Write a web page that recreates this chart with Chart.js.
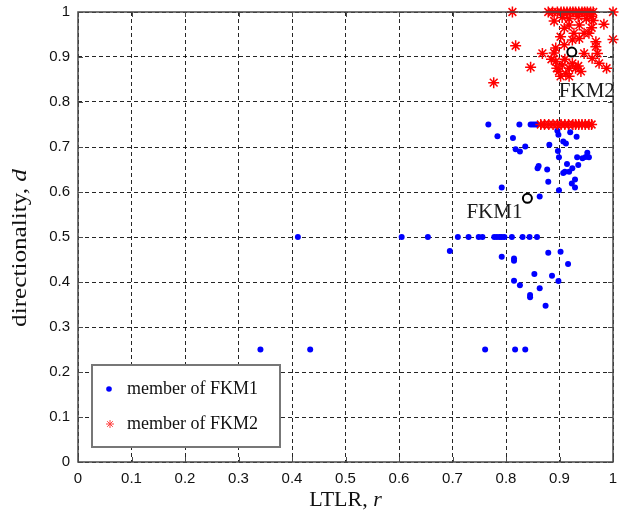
<!DOCTYPE html>
<html>
<head>
<meta charset="utf-8">
<script src="https://cdn.jsdelivr.net/npm/chart.js"></script>
<style>
  html, body { margin: 0; padding: 0; background: #fff; }
  #wrap { width: 620px; height: 519px; }
</style>
</head>
<body>
<div id="wrap"><canvas id="scatter" width="620" height="519"></canvas></div>
<script>
// values: [LTLR r, directionality d]
const fkm1Points = [
  [0.767, 0.75], [0.825, 0.75], [0.846, 0.75], [0.850, 0.75], [0.854, 0.75], [0.858, 0.75],
  [0.784, 0.724], [0.813, 0.72], [0.896, 0.736], [0.898, 0.727], [0.920, 0.733], [0.932, 0.723],
  [0.907, 0.712], [0.912, 0.708], [0.881, 0.705], [0.836, 0.701], [0.818, 0.695], [0.826, 0.690],
  [0.897, 0.691], [0.899, 0.677], [0.952, 0.687], [0.949, 0.678], [0.943, 0.675], [0.955, 0.677],
  [0.933, 0.677], [0.914, 0.662], [0.935, 0.660], [0.924, 0.653], [0.861, 0.658], [0.859, 0.653],
  [0.877, 0.650], [0.910, 0.645], [0.907, 0.642], [0.918, 0.645], [0.929, 0.628], [0.923, 0.619],
  [0.929, 0.610], [0.879, 0.623], [0.899, 0.604], [0.792, 0.610], [0.863, 0.590],
  [0.411, 0.5], [0.605, 0.5], [0.654, 0.5], [0.710, 0.5], [0.730, 0.5], [0.749, 0.5], [0.756, 0.5],
  [0.778, 0.5], [0.783, 0.5], [0.788, 0.5], [0.792, 0.5], [0.797, 0.5], [0.811, 0.5], [0.831, 0.5],
  [0.844, 0.5], [0.858, 0.5],
  [0.695, 0.469], [0.792, 0.456], [0.815, 0.447], [0.815, 0.452], [0.879, 0.465], [0.902, 0.467],
  [0.916, 0.440], [0.853, 0.418], [0.886, 0.414], [0.815, 0.403], [0.898, 0.402], [0.826, 0.393],
  [0.863, 0.386], [0.845, 0.371], [0.845, 0.366], [0.874, 0.347],
  [0.341, 0.25], [0.434, 0.25], [0.761, 0.25], [0.817, 0.25], [0.836, 0.25]
];

const fkm2Points = [
  [0.812, 1.0], [0.879, 1.0], [0.887, 1.0], [0.896, 1.0], [0.903, 1.0], [0.908, 1.0], [0.914, 1.0],
  [0.920, 1.0], [0.925, 1.0], [0.930, 1.0], [0.936, 1.0], [0.942, 1.0], [0.947, 1.0], [0.952, 1.0],
  [0.958, 1.0], [0.963, 1.0], [1.0, 1.0],
  [0.905, 0.988], [0.918, 0.985], [0.935, 0.990], [0.950, 0.985], [0.960, 0.990], [0.890, 0.980],
  [0.983, 0.973], [0.963, 0.981], [0.937, 0.971], [0.918, 0.971], [0.909, 0.964], [0.960, 0.965],
  [0.946, 0.953], [0.955, 0.953], [0.927, 0.953], [0.902, 0.945], [0.924, 0.938], [0.937, 0.941],
  [0.909, 0.927], [0.968, 0.934], [1.0, 0.939], [0.893, 0.920], [0.890, 0.909], [0.946, 0.908],
  [0.968, 0.923], [0.971, 0.908], [0.961, 0.897], [0.893, 0.890], [0.905, 0.882], [0.918, 0.875],
  [0.930, 0.875], [0.899, 0.868], [0.912, 0.863], [0.940, 0.868], [0.974, 0.886], [0.988, 0.875],
  [0.924, 0.886], [0.902, 0.857], [0.918, 0.857], [0.885, 0.895], [0.910, 0.895], [0.895, 0.875],
  [0.935, 0.880], [0.818, 0.925], [0.868, 0.908], [0.846, 0.877], [0.777, 0.843],
  [0.865, 0.75], [0.872, 0.75], [0.880, 0.75], [0.888, 0.75], [0.896, 0.75], [0.903, 0.75],
  [0.910, 0.75], [0.917, 0.75], [0.925, 0.75], [0.930, 0.75], [0.936, 0.75], [0.942, 0.75],
  [0.948, 0.75], [0.955, 0.75], [0.960, 0.75]
];

const centroids = [[0.840, 0.586], [0.923, 0.911]];
const clusterNames = ['FKM1', 'FKM2'];
const legendLabels = ['member of FKM1', 'member of FKM2'];

const toXY = pts => pts.map(p => ({ x: p[0], y: p[1] }));

// star marker like matlab '*'
function drawStar(ctx, x, y, r) {
  ctx.beginPath();
  ctx.moveTo(x - r, y); ctx.lineTo(x + r, y);
  ctx.moveTo(x, y - r); ctx.lineTo(x, y + r);
  const d = r * 0.707;
  ctx.moveTo(x - d, y - d); ctx.lineTo(x + d, y + d);
  ctx.moveTo(x - d, y + d); ctx.lineTo(x + d, y - d);
  ctx.stroke();
}

const axisDecor = {
  id: 'axisDecor',
  afterDatasetsDraw(chart) {
    const { ctx, chartArea: a, scales } = chart;
    ctx.save();

    // box + inward ticks
    ctx.strokeStyle = '#4a4a4a';
    ctx.lineWidth = 1.5;
    ctx.strokeRect(a.left, a.top, a.right - a.left, a.bottom - a.top);
    ctx.lineWidth = 1;
    scales.x.ticks.forEach(t => {
      const px = Math.round(scales.x.getPixelForValue(t.value)) + 0.5;
      ctx.beginPath();
      ctx.moveTo(px, a.bottom); ctx.lineTo(px, a.bottom - 5);
      ctx.moveTo(px, a.top); ctx.lineTo(px, a.top + 5);
      ctx.stroke();
    });
    scales.y.ticks.forEach(t => {
      const py = Math.round(scales.y.getPixelForValue(t.value)) + 0.5;
      ctx.beginPath();
      ctx.moveTo(a.left, py); ctx.lineTo(a.left + 5, py);
      ctx.moveTo(a.right, py); ctx.lineTo(a.right - 5, py);
      ctx.stroke();
    });

    // cluster labels next to the centroids
    ctx.fillStyle = '#1a1a1a';
    ctx.font = '21px "Liberation Serif", "Times New Roman", serif';
    ctx.textAlign = 'center';
    ctx.textBaseline = 'middle';
    const offs = [[-33, 14], [15, 39]];
    centroids.forEach((c, i) => {
      const px = scales.x.getPixelForValue(c[0]);
      const py = scales.y.getPixelForValue(c[1]);
      ctx.fillText(clusterNames[i], px + offs[i][0], py + offs[i][1]);
    });

    // axis titles (last letter italic)
    ctx.fillStyle = '#111';
    const xMid = (a.left + a.right) / 2;
    const serif = '"Liberation Serif", "Times New Roman", serif';
    const xa = 'LTLR, ';
    ctx.font = 'italic 22px ' + serif;
    const wr = ctx.measureText('r').width;
    ctx.font = '22px ' + serif;
    const wa = ctx.measureText(xa).width;
    ctx.textAlign = 'left';
    let sx = xMid - (wa + wr) / 2;
    ctx.fillText(xa, sx, 500);
    ctx.font = 'italic 22px ' + serif;
    ctx.fillText('r', sx + wa, 500);

    ctx.save();
    ctx.translate(20, 248);
    ctx.rotate(-Math.PI / 2);
    ctx.scale(1.2, 1);
    ctx.font = '21px ' + serif;
    const ya = 'directionality, ';
    const wya = ctx.measureText(ya).width;
    ctx.font = 'italic 21px ' + serif;
    const wd = ctx.measureText('d').width;
    sx = -(wya + wd) / 2;
    ctx.font = '21px ' + serif;
    ctx.fillText(ya, sx, 0);
    ctx.font = 'italic 21px ' + serif;
    ctx.fillText('d', sx + wya, 0);
    ctx.restore();

    // legend box
    ctx.fillStyle = '#fff';
    ctx.fillRect(92, 365, 188, 82);
    ctx.strokeStyle = '#777';
    ctx.lineWidth = 2;
    ctx.strokeRect(92, 365, 188, 82);
    ctx.fillStyle = '#0000ff';
    ctx.beginPath();
    ctx.arc(109, 389, 2.8, 0, Math.PI * 2);
    ctx.fill();
    ctx.strokeStyle = '#ff4040';
    ctx.lineWidth = 1;
    drawStar(ctx, 110, 424, 4);
    ctx.fillStyle = '#111';
    ctx.font = '18px ' + serif;
    ctx.textBaseline = 'middle';
    ctx.fillText(legendLabels[0], 127, 389);
    ctx.fillText(legendLabels[1], 127, 424);

    ctx.restore();
  }
};

const tickFmt = v => String(Math.round(v * 10) / 10);
const gridOpts = { color: 'rgba(0,0,0,0.85)', lineWidth: 1, drawTicks: false };

new Chart(document.getElementById('scatter'), {
  type: 'scatter',
  data: {
    datasets: [{
      label: legendLabels[0],
      data: toXY(fkm1Points),
      pointRadius: 3,
      pointBackgroundColor: '#0000ff',
      pointBorderWidth: 0,
      clip: false,
      order: 2
    }, {
      label: legendLabels[1],
      data: toXY(fkm2Points),
      pointStyle: 'star',
      pointRadius: 5.5,
      pointBorderColor: '#ff0000',
      pointBackgroundColor: '#ff0000',
      pointBorderWidth: 1.5,
      clip: false,
      order: 1
    }, {
      label: 'centroids',
      data: toXY(centroids),
      pointRadius: 4.5,
      pointBackgroundColor: 'rgba(0,0,0,0)',
      pointBorderColor: '#000',
      pointBorderWidth: 2,
      clip: false,
      order: 0
    }]
  },
  options: {
    responsive: false,
    animation: false,
    devicePixelRatio: 1,
    layout: { padding: { top: 12, right: 6, left: 0, bottom: 0 } },
    plugins: { legend: { display: false }, tooltip: { enabled: false } },
    scales: {
      x: {
        type: 'linear', min: 0, max: 1,
        grid: gridOpts,
        border: { display: false, dash: [4, 3] },
        ticks: {
          stepSize: 0.1, padding: 8, color: '#111', maxRotation: 0,
          font: { family: '"Liberation Sans", Arial, sans-serif', size: 15 },
          callback: tickFmt
        },
        afterFit: s => { s.height = 57; s.paddingLeft = 0; s.paddingRight = 0; }
      },
      y: {
        type: 'linear', min: 0, max: 1,
        grid: gridOpts,
        border: { display: false, dash: [4, 3] },
        ticks: {
          stepSize: 0.1, padding: 8, color: '#111',
          font: { family: '"Liberation Sans", Arial, sans-serif', size: 15 },
          callback: tickFmt
        },
        afterFit: s => { s.width = 78; s.paddingTop = 0; s.paddingBottom = 0; }
      }
    }
  },
  plugins: [axisDecor]
});
</script>
</body>
</html>
